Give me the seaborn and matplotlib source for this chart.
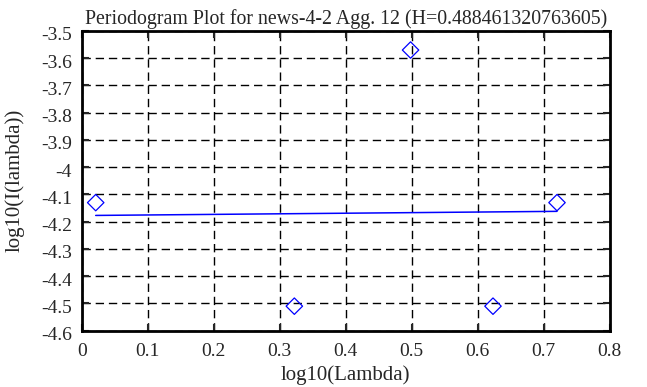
import numpy as np
import pandas as pd
import matplotlib
matplotlib.use("Agg")
import matplotlib.pyplot as plt
import matplotlib.transforms as mtransforms
import seaborn as sns

# periodogram points (log10 lambda vs log10 I(lambda))
log_lambda = [0.0212, 0.3222, 0.4983, 0.6232, 0.7202]
log_I = [-4.13, -4.51, -3.57, -4.51, -4.13]

# fitted regression line end points
fit_x = [0.0212, 0.7202]
fit_y = [-4.177, -4.162]

xticks = [0, 0.1, 0.2, 0.3, 0.4, 0.5, 0.6, 0.7, 0.8]
yticks = [-3.5, -3.6, -3.7, -3.8, -3.9, -4, -4.1, -4.2, -4.3, -4.4, -4.5, -4.6]

sns.set_style("ticks")
plt.rcParams['font.family'] = ['Liberation Serif', 'DejaVu Serif']

pts = pd.DataFrame({'x': log_lambda, 'y': log_I})
fit = pd.DataFrame({'x': fit_x, 'y': fit_y})

fig = plt.figure(figsize=(6.47, 3.87), dpi=100)
ax = fig.add_axes([0.1263, 0.1455, 0.8160, 0.7745])

sns.lineplot(data=fit, x='x', y='y', color='blue', linewidth=1.1, ax=ax)
sns.scatterplot(data=pts, x='x', y='y', marker='D', s=70, facecolor='none',
                edgecolor='blue', linewidth=0.9, ax=ax, zorder=3)

ax.set_xlim(0, 0.8)
ax.set_ylim(-4.6, -3.5)
ax.set_xticks(xticks)
ax.set_xticklabels([str(t) for t in xticks])
ax.set_yticks(yticks)
ax.set_yticklabels([str(t) for t in yticks])
ax.grid(True, color='black', linestyle=(0, (6, 3.5)), linewidth=1.0)
ax.tick_params(direction='in', top=True, right=True, length=5, width=1.5, labelsize=14)
ax.tick_params(axis='y', pad=7)
ax.tick_params(axis='x', pad=9)
for s in ax.spines.values():
    s.set_linewidth(2)
    s.set_color('black')

# gnuplot puts the y tick labels slightly below their ticks
shift = mtransforms.ScaledTranslation(0, -3 / 100, fig.dpi_scale_trans)
for lab in ax.get_yticklabels():
    lab.set_transform(lab.get_transform() + shift)

ax.set_title('Periodogram Plot for news-4-2 Agg. 12 (H=0.488461320763605)', fontsize=14.3, pad=5)
ax.set_xlabel('log10(Lambda)', fontsize=15, labelpad=4)
ax.set_ylabel('log10(I(lambda))', fontsize=15, labelpad=12)

fig.savefig('out.png', dpi=100)
